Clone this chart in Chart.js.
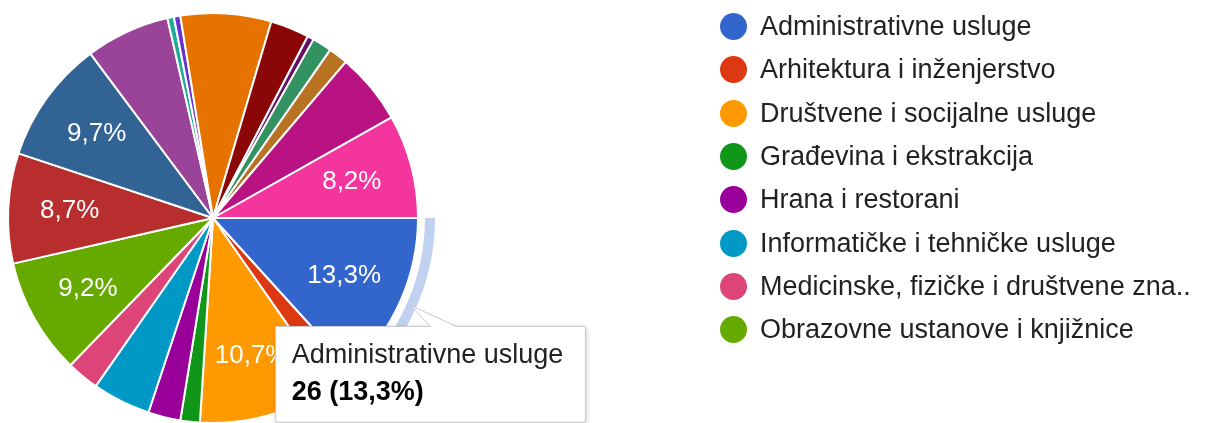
<!DOCTYPE html>
<html>
<head>
<meta charset="utf-8">
<script src="https://cdn.jsdelivr.net/npm/chart.js@4.4.0/dist/chart.umd.min.js"></script>
<style>
  html, body { margin: 0; padding: 0; background: #fff; }
  #wrap { position: relative; width: 1207px; height: 423px; overflow: hidden; }
  #myChart { position: absolute; left: 0; top: 0; }
  #legend { position: absolute; left: 720px; top: 5px; font-family: "Liberation Sans", Arial, sans-serif; font-size: 27px; color: #222; }
  .row { height: 43.33px; display: flex; align-items: center; white-space: nowrap; }
  .dot { width: 27px; height: 27px; border-radius: 50%; margin-right: 13px; flex: none; }
</style>
</head>
<body>
<div id="wrap">
  <canvas id="myChart" width="1207" height="423"></canvas>
  <div id="legend"></div>
</div>
<script>
//? podaci
var labels = [
  'Administrativne usluge',
  'Arhitektura i inženjerstvo',
  'Društvene i socijalne usluge',
  'Građevina i ekstrakcija',
  'Hrana i restorani',
  'Informatičke i tehničke usluge',
  'Medicinske, fizičke i društvene zna..',
  'Obrazovne ustanove i knjižnice',
  'Kategorija 9', 'Kategorija 10', 'Kategorija 11', 'Kategorija 12',
  'Kategorija 13', 'Kategorija 14', 'Kategorija 15', 'Kategorija 16',
  'Kategorija 17', 'Kategorija 18', 'Kategorija 19', 'Kategorija 20'
];
var values = [26, 4, 21, 3, 5, 9, 5, 18, 17, 19, 13, 1, 1, 14, 6, 1, 3, 3, 11, 16];
var sliceColors = [
  '#3366cc', '#dc3912', '#ff9900', '#109618', '#990099', '#0099c6', '#dd4477', '#66aa00',
  '#b82e2e', '#316395', '#994499', '#22aa99', '#6633cc', '#e67300', '#8b0707', '#651067',
  '#329262', '#b77322', '#b91383', '#f4359e'
];
var legendCount = 8;
var activeIndex = 0;

var total = values.reduce(function (a, b) { return a + b; }, 0);
function pctText(v) {
  return (v / total * 100).toFixed(1).replace('.', ',') + '%';
}

Chart.defaults.font.family = '"Liberation Sans", Arial, sans-serif';

// tooltip tip sits on the hover ring, in the middle of the slice
Chart.Tooltip.positioners.ringTip = function (items) {
  if (!items.length) return false;
  var arc = items[0].element;
  var mid = (arc.startAngle + arc.endAngle) / 2;
  var r = arc.outerRadius + 11;
  return { x: arc.x + Math.cos(mid) * r, y: arc.y + Math.sin(mid) * r };
};

var pieExtras = {
  id: 'pieExtras',
  afterDatasetsDraw: function (chart) {
    var meta = chart.getDatasetMeta(0);
    var ctx = chart.ctx;
    ctx.save();
    // hover ring around the active slice
    var act = meta.data[activeIndex];
    ctx.beginPath();
    ctx.arc(act.x, act.y, act.outerRadius + 17, act.startAngle, act.endAngle);
    ctx.arc(act.x, act.y, act.outerRadius + 7, act.endAngle, act.startAngle, true);
    ctx.closePath();
    ctx.fillStyle = 'rgba(51,102,204,0.3)';
    ctx.fill();
    // percent labels
    ctx.font = '26px "Liberation Sans", Arial, sans-serif';
    ctx.fillStyle = '#fff';
    ctx.textAlign = 'center';
    ctx.textBaseline = 'middle';
    meta.data.forEach(function (arc, i) {
      if (values[i] / total < 0.08) return;
      var mid = (arc.startAngle + arc.endAngle) / 2;
      var r = arc.outerRadius * 0.7;
      ctx.fillText(pctText(values[i]), arc.x + Math.cos(mid) * r, arc.y + Math.sin(mid) * r);
    });
    ctx.restore();
  },
  beforeTooltipDraw: function (chart, args) {
    var tt = args.tooltip;
    tt.x = tt.caretX - tt.width / 2 + 20;
    // soft shadow under the box
    var ctx = chart.ctx;
    ctx.save();
    ctx.shadowColor = 'rgba(0,0,0,0.25)';
    ctx.shadowBlur = 6;
    ctx.shadowOffsetX = 1;
    ctx.shadowOffsetY = 2;
    ctx.fillStyle = '#fff';
    ctx.fillRect(tt.x, tt.y, tt.width, tt.height);
    ctx.restore();
  },
  afterTooltipDraw: function (chart, args) {
    // slanted callout from the box top to the ring
    var tt = args.tooltip;
    var ctx = chart.ctx;
    var b1 = tt.x + 155, b2 = tt.x + 182;
    ctx.save();
    ctx.beginPath();
    ctx.moveTo(tt.caretX, tt.caretY);
    ctx.lineTo(b1, tt.y + 1);
    ctx.lineTo(b2, tt.y + 1);
    ctx.closePath();
    ctx.fillStyle = '#fff';
    ctx.fill();
    ctx.beginPath();
    ctx.moveTo(b1, tt.y + 0.5);
    ctx.lineTo(tt.caretX, tt.caretY);
    ctx.lineTo(b2, tt.y + 0.5);
    ctx.strokeStyle = '#c8c8c8';
    ctx.lineWidth = 1;
    ctx.stroke();
    ctx.restore();
  }
};

var ctx = document.getElementById('myChart').getContext('2d');
var chart = new Chart(ctx, {
  type: 'pie',
  data: {
    labels: labels,
    datasets: [{
      data: values,
      backgroundColor: sliceColors,
      hoverBackgroundColor: sliceColors,
      borderColor: '#fff',
      hoverBorderColor: '#fff',
      borderWidth: 2,
      hoverBorderWidth: 2,
      hoverOffset: 0
    }]
  },
  options: {
    responsive: false,
    animation: false,
    events: [],
    rotation: 90,
    radius: 205,
    layout: { padding: { left: 8, top: 13, right: 789, bottom: 0 } },
    plugins: {
      legend: { display: false },
      tooltip: {
        position: 'ringTip',
        xAlign: 'center',
        yAlign: 'top',
        backgroundColor: '#fff',
        borderColor: '#c8c8c8',
        borderWidth: 1,
        cornerRadius: 0,
        caretSize: 0,
        caretPadding: 21,
        displayColors: false,
        padding: { top: 13, bottom: 13, left: 16, right: 22 },
        titleMarginBottom: 5,
        titleColor: '#222',
        bodyColor: '#000',
        titleFont: { size: 27, weight: 'normal' },
        bodyFont: { size: 27, weight: 'bold' },
        callbacks: {
          title: function (items) { return items[0].label; },
          label: function (item) { return item.raw + ' (' + pctText(item.raw) + ')'; }
        }
      }
    }
  },
  plugins: [pieExtras]
});

chart.setActiveElements([{ datasetIndex: 0, index: activeIndex }]);
chart.tooltip.setActiveElements([{ datasetIndex: 0, index: activeIndex }], { x: 0, y: 0 });
chart.update();

// legend (first page, as in the original)
var legend = document.getElementById('legend');
labels.slice(0, legendCount).forEach(function (name, i) {
  var row = document.createElement('div');
  row.className = 'row';
  var dot = document.createElement('span');
  dot.className = 'dot';
  dot.style.background = sliceColors[i];
  var txt = document.createElement('span');
  txt.textContent = name;
  row.appendChild(dot);
  row.appendChild(txt);
  legend.appendChild(row);
});
</script>
</body>
</html>
